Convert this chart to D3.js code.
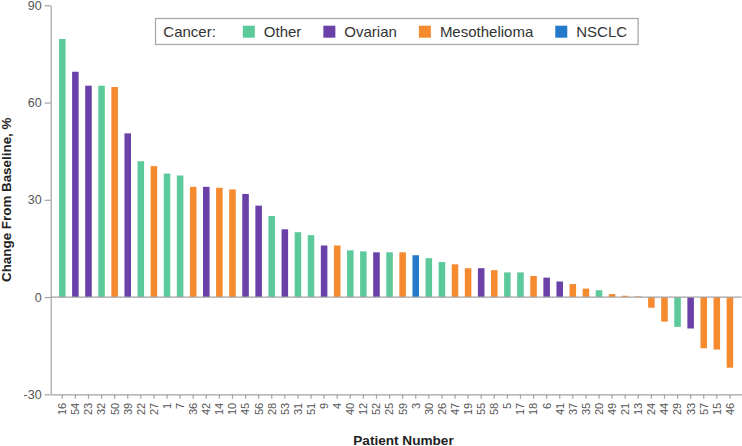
<!DOCTYPE html>
<html>
<head>
<meta charset="utf-8">
<script src="https://cdn.jsdelivr.net/npm/d3@7"></script>
<style>
  html, body { margin: 0; padding: 0; background: #fff; }
  svg { display: block; font-family: "Liberation Sans", Arial, Helvetica, sans-serif; }
</style>
</head>
<body>
<svg id="chart" width="742" height="446"></svg>
<script>
// ---- data ----
const patients = ["16","54","23","32","50","39","22","27","1","7","36","42","14","10","45","56","28","53","31","51","9","4","40","12","52","25","59","3","30","26","47","19","55","58","5","17","18","6","41","37","35","20","49","21","13","24","44","29","33","57","15","46"];
const changes = [79.6,69.5,65.2,65.2,64.8,50.5,41.9,40.4,38.1,37.5,34.0,34.0,33.7,33.2,31.8,28.2,25.0,20.9,20.0,19.1,15.9,15.9,14.4,14.1,13.8,13.8,13.8,12.9,12.0,10.8,10.1,8.9,8.9,8.3,7.6,7.6,6.5,6.0,4.8,4.0,2.6,2.1,0.9,0.4,0.2,-3.3,-7.6,-9.2,-9.7,-15.8,-16.2,-21.8];
const cancers = ["Other","Ovarian","Ovarian","Other","Mesothelioma","Ovarian","Other","Mesothelioma","Other","Other","Mesothelioma","Ovarian","Mesothelioma","Mesothelioma","Ovarian","Ovarian","Other","Ovarian","Other","Other","Ovarian","Mesothelioma","Other","Other","Ovarian","Other","Mesothelioma","NSCLC","Other","Other","Mesothelioma","Mesothelioma","Ovarian","Mesothelioma","Other","Other","Mesothelioma","Ovarian","Ovarian","Mesothelioma","Mesothelioma","Other","Mesothelioma","Mesothelioma","Mesothelioma","Mesothelioma","Mesothelioma","Other","Ovarian","Mesothelioma","Mesothelioma","Mesothelioma"];
const cancerTypes = ["Other","Ovarian","Mesothelioma","NSCLC"];
const cancerColors = ["#5cc99b","#6a41a8","#f68a2e","#2479c9"];
const yTicks = [-30, 0, 30, 60, 90];
const legendTitle = "Cancer:";
const xTitle = "Patient Number";
const yTitle = "Change From Baseline, %";

const rows = patients.map((p, i) => ({ patient: p, change: changes[i], cancer: cancers[i] }));

// ---- layout ----
const svg = d3.select("#chart");
const mLeft = 50.7, mRight = 741.5, mTop = 5.3, mBottom = 394.3;
const axisColor = "#a3a3a3";

const x = d3.scaleBand().domain(patients).range([mLeft, mRight]).paddingInner(0.5).paddingOuter(0.635);
const y = d3.scaleLinear().domain([-30, 90]).range([mBottom, mTop]);
const color = d3.scaleOrdinal().domain(cancerTypes).range(cancerColors);

// bars
svg.append("g").selectAll("rect").data(rows).join("rect")
  .attr("x", d => x(d.patient))
  .attr("width", x.bandwidth())
  .attr("y", d => y(Math.max(0, d.change)))
  .attr("height", d => Math.abs(y(d.change) - y(0)))
  .attr("fill", d => color(d.cancer));

// zero line
svg.append("line")
  .attr("x1", mLeft).attr("x2", mRight)
  .attr("y1", y(0)).attr("y2", y(0))
  .attr("stroke", axisColor).attr("stroke-width", 1.2);

// y axis
const yAxis = svg.append("g").attr("transform", `translate(${mLeft},0)`)
  .call(d3.axisLeft(y).tickValues(yTicks).tickSize(6).tickSizeOuter(0).tickPadding(3).tickFormat(d => String(d)));
yAxis.select(".domain").attr("stroke", axisColor).attr("stroke-width", 1.2);
yAxis.selectAll(".tick line").attr("stroke", axisColor).attr("stroke-width", 1.2);
yAxis.selectAll(".tick text").attr("fill", "#555").style("font-size", "12.5px").style("font-family", "Liberation Sans, Arial, sans-serif");

// x axis
const xAxis = svg.append("g").attr("transform", `translate(0,${mBottom})`)
  .call(d3.axisBottom(x).tickSize(4.5).tickSizeOuter(0));
xAxis.select(".domain").attr("stroke", axisColor).attr("stroke-width", 1.2);
xAxis.selectAll(".tick line").attr("stroke", axisColor).attr("stroke-width", 1.2);
xAxis.selectAll(".tick text")
  .attr("fill", "#555")
  .style("font-size", "11px")
  .style("font-family", "Liberation Sans, Arial, sans-serif")
  .attr("transform", "rotate(-90)")
  .attr("text-anchor", "end")
  .attr("x", -8.5)
  .attr("y", 0)
  .attr("dy", "0.35em");

// axis titles
svg.append("text")
  .attr("x", 403.5).attr("y", 444.5)
  .attr("text-anchor", "middle")
  .attr("fill", "#222")
  .style("font-size", "13.6px").style("font-weight", "bold")
  .text(xTitle);

svg.append("text")
  .attr("transform", `translate(11,${(mTop + mBottom) / 2}) rotate(-90)`)
  .attr("text-anchor", "middle")
  .attr("fill", "#222")
  .style("font-size", "13.4px").style("font-weight", "bold")
  .text(yTitle);

// legend
const lg = svg.append("g");
const box = lg.append("rect")
  .attr("x", 155.5).attr("y", 18.5).attr("height", 26)
  .attr("fill", "#fff").attr("stroke", "#a8a8a8").attr("stroke-width", 1.3);
const lgFont = "15px";
const baseY = 36.7;
let cx = 163.3;
const t0 = lg.append("text").attr("x", cx).attr("y", baseY).attr("fill", "#333")
  .style("font-size", lgFont).text(legendTitle);
cx += t0.node().getComputedTextLength() + 27;
cancerTypes.forEach((c, i) => {
  lg.append("rect").attr("x", cx).attr("y", 25.7).attr("width", 12).attr("height", 12).attr("fill", color(c));
  cx += 21;
  const t = lg.append("text").attr("x", cx).attr("y", baseY).attr("fill", "#333").style("font-size", lgFont).text(c);
  cx += t.node().getComputedTextLength() + (i < cancerTypes.length - 1 ? 22 : 11);
});
box.attr("width", cx - 155.5);
</script>
</body>
</html>
